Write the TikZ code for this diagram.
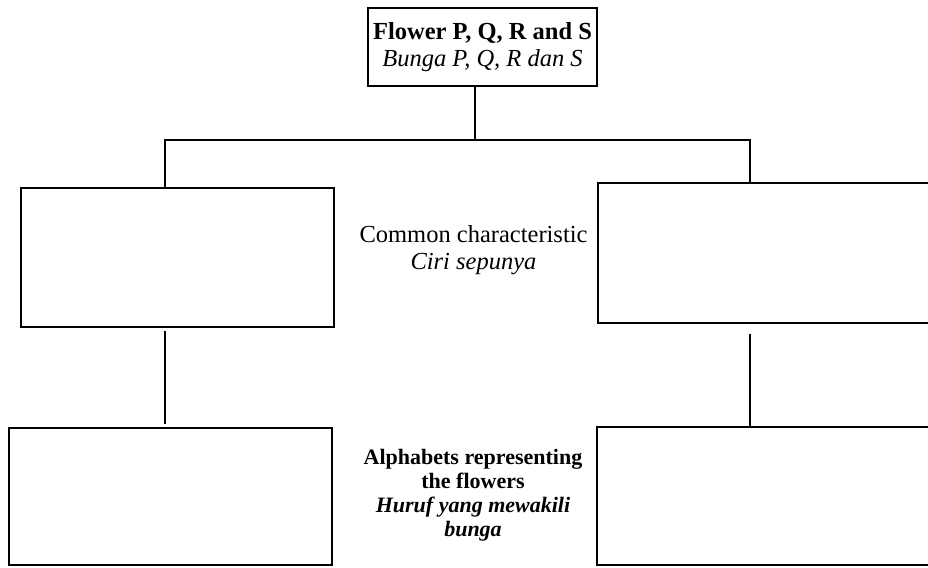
\documentclass[tikz,border=0pt]{standalone}
\usepackage{fontspec}
\setmainfont{Liberation Serif}
\begin{document}
\begin{tikzpicture}[x=1pt,y=-1pt,
  box/.style={draw, line width=1.5pt, inner sep=0pt},
  conn/.style={line width=1.5pt},
  bigtxt/.style={align=center, font=\fontsize{24.5}{27}\selectfont},
  smalltxt/.style={align=center, font=\fontsize{22}{24}\selectfont}]
\useasboundingbox (0,0) rectangle (928,567);
\clip (0,0) rectangle (928,567);
\node[box, bigtxt, minimum width=229pt, minimum height=78pt] (top) at (482.5,47)
  {\textbf{Flower P, Q, R and S}\\\textit{Bunga P, Q, R dan S}};
\node[box, minimum width=313pt, minimum height=139pt] (L1) at (177.5,257.5) {};
\node[box, minimum width=342pt, minimum height=140pt] (R1) at (769,253) {};
\node[box, minimum width=323pt, minimum height=137pt] (L2) at (170.5,496.5) {};
\node[box, minimum width=343pt, minimum height=138pt] (R2) at (768.5,496) {};
\node[bigtxt] (cc) at (473.5,250) {Common characteristic\\\textit{Ciri sepunya}};
\node[smalltxt] (al) at (473,495.5) {\textbf{Alphabets representing}\\\textbf{the flowers}\\\textit{\textbf{Huruf yang mewakili}}\\\textit{\textbf{bunga}}};
\coordinate (j) at (475,140);
\coordinate (jl) at (165,140);
\coordinate (jr) at (750,140);
\draw[conn] (top.south -| j) -- (j);
\draw[conn] (L1.north -| jl) -- (jl) -- (jr) -- (R1.north -| jr);
\draw[conn] ([yshift=-3pt]L1.south -| jl) -- ([yshift=3pt]L2.north -| jl);
\draw[conn] ([yshift=-10pt]R1.south -| jr) -- (R2.north -| jr);
\end{tikzpicture}
\end{document}
